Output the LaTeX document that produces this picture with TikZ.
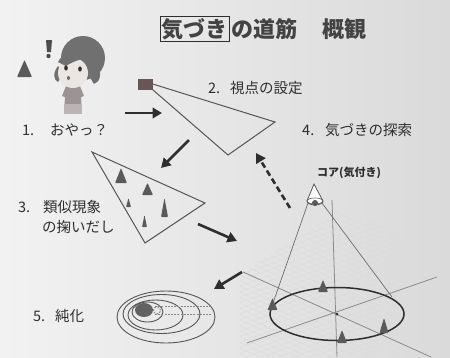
\documentclass[tikz,border=0pt]{standalone}
\usepackage{fontspec}
\newfontfamily\jp{Noto Sans CJK JP}
\usetikzlibrary{arrows.meta}
\definecolor{ink}{HTML}{2E2E2E}
\definecolor{bgl}{HTML}{F2F2F2}
\definecolor{bgr}{HTML}{DADADA}
\definecolor{spikecol}{HTML}{5A5A5A}
\definecolor{pincol}{HTML}{6A5555}
\definecolor{haircol}{HTML}{707070}
\definecolor{skincol}{HTML}{ECE6E2}
\definecolor{shirtcol}{HTML}{9C9494}
\definecolor{meshcol}{HTML}{DCDCDC}
\definecolor{axiscol}{HTML}{8A8A8A}
\definecolor{linecol}{HTML}{555555}
% small cone marker: base centre x, base y, width, height
\newcommand\spike[4]{\fill[spikecol, rounded corners=0.8pt] ({#1-#3/2},#2) -- (#1,{#2-#4}) -- ({#1+#3/2},#2) -- cycle;}
\begin{document}
\begin{tikzpicture}[x=1pt, y=-1pt,
  lbl/.style={anchor=west, inner sep=0pt, text=ink, font=\jp\fontsize{14.5}{16}\selectfont},
  ttl/.style={anchor=west, inner sep=0pt, text=ink!90, font=\jp\bfseries\fontsize{22}{24}\selectfont},
  flow/.style={line width=2.6pt, draw=ink, -{Triangle[length=9.5pt,width=10.5pt]}},
  thinline/.style={draw=linecol, line width=1pt},
  ray/.style={draw=axiscol!80!black, line width=0.7pt}]
\useasboundingbox (0,0) rectangle (450,357);
\shade[left color=bgl, right color=bgr] (0,0) rectangle (450,357);

% ---- title ----
\node[ttl, draw=ink, line width=0.8pt, inner sep=1.5pt] (kz) at (160,29) {気づき};
\node[ttl] (michi) at ([xshift=1pt]kz.east) {の道筋};
\node[ttl] (gaikan) at (322,29) {概観};

% ---- 1. the girl ----
\spike{24.5}{77}{15}{17}
\fill[ink!85] (46,40) -- (52,40) -- (51,52) -- (47,52) -- cycle;
\fill[ink!85] (48.5,56) circle (2.2pt);
% hair
\fill[haircol] (83,58) circle (22pt);
\fill[haircol] (58,66) .. controls (52,74) and (54,80) .. (58,82) -- (64,72) -- cycle;
\fill[haircol] (98,64) .. controls (102,74) and (100,82) .. (94,84) -- (88,74) -- cycle;
% body
\fill[shirtcol] (66,86) -- (80,86) -- (84,96) -- (81,97) -- (82,112) -- (64,112) -- (65,97) -- (62,96) -- cycle;
\fill[shirtcol!70!white] (64,104) rectangle (82,114);
% face
\fill[skincol] (73,73) ellipse [x radius=15pt, y radius=15pt];
\fill[haircol] (58,62) .. controls (62,52) and (78,50) .. (90,58) .. controls (82,58) and (72,62) .. (66,66) -- cycle;
\fill[ink] (66,68) ellipse [x radius=1.8pt, y radius=2.6pt];
\fill[ink] (80,69) ellipse [x radius=1.8pt, y radius=2.6pt];
\fill[ink!70] (68.5,78) ellipse [x radius=1.5pt, y radius=2pt];
\node[lbl] (t1) at (22,130) {\makebox[28pt][l]{1.}おやっ？};

% ---- 2. viewpoint ----
\node[fill=pincol, minimum width=15pt, minimum height=11pt, inner sep=0pt] (pin) at (145,84) {};
\coordinate (v2r) at (275,122);
\coordinate (v2b) at (228,155);
\draw[thinline] (pin.east) -- (v2r) -- (v2b) -- (pin.south east);
\node[lbl] (t2) at (208,88) {\makebox[22pt][l]{2.}視点の設定};

% ---- 3. similar phenomena ----
\coordinate (v3a) at (92,152);
\coordinate (v3b) at (205,203);
\coordinate (v3c) at (145,243);
\draw[thinline] (v3a) -- (v3b) -- (v3c) -- cycle;
\spike{121}{183}{12}{15}
\spike{147.5}{195}{11}{12}
\spike{128.5}{207}{5}{9}
\spike{164.5}{217}{7}{19}
\spike{144.5}{227}{5}{12}
\node[lbl] (n3) at (18,207) {3.};
\node[lbl] (t3a) at (43,207) {類似現象};
\node[lbl] (t3b) at (42,227) {の掬いだし};

% ---- 4. exploration: ground plane ----
\begin{scope}
  \clip (240,274) -- (338,212) -- (450,248) -- (450,357) -- (240,357) -- cycle;
  \foreach \k in {-20,...,20} {
    \draw[meshcol, line width=0.45pt] ({337+7*\k-300},{314-2.4*\k-138}) -- ({337+7*\k+300},{314-2.4*\k+138});
    \draw[meshcol, line width=0.45pt] ({337+7*\k-300},{314+3.2*\k+104}) -- ({337+7*\k+300},{314+3.2*\k-104});
  }
\end{scope}
\coordinate (ctr) at (337,314);
\coordinate (ax1a) at (243,272);
\coordinate (ax1b) at (431,357);
\coordinate (ax2a) at (247,343);
\coordinate (ax2b) at (437,277);
\draw[axiscol, line width=0.8pt] (ax1a) -- (ax1b);
\draw[axiscol, line width=0.8pt] (ax2a) -- (ax2b);
\draw[axiscol, line width=0.8pt] (332,200) -- (337,357);
% core cone
\coordinate (apex) at (314,184);
\coordinate (cbl) at (308,203);
\coordinate (cbr) at (322,203);
\coordinate (rl) at (273,303);
\coordinate (rr) at (392,297);
\draw[ray] (cbl) -- (rl);
\draw[ray] (cbr) -- (rr);
\draw[ink, line width=1.5pt] (ctr) ellipse [x radius=67pt, y radius=26.5pt];
\fill[ink] (ctr) circle (1.5pt);
\filldraw[fill=white, draw=ink!80, line width=0.8pt] (307,201) -- (apex) -- (323,201) arc[start angle=0, end angle=-180, x radius=8pt, y radius=4pt] -- cycle;
\draw[ink!80, line width=0.6pt] (315,201) ellipse [x radius=8pt, y radius=3pt];
\fill[ink!80] (315,203) circle (3pt);
\node[anchor=west, inner sep=0pt, text=ink, font=\jp\bfseries\fontsize{11}{12}\selectfont] (core) at (317,173) {コア(気付き)};
\spike{323}{292}{10}{12}
\spike{272.5}{310}{10}{12}
\spike{342}{343}{10}{13}
\spike{384}{333}{9}{15}
\node[lbl] (t4) at (302,130) {\makebox[23pt][l]{4.}気づきの探索};

% ---- 5. refinement ----
\begin{scope}[draw=linecol, line width=0.9pt]
  \draw (166,317) ellipse [x radius=49pt, y radius=26pt];
  \draw (161.5,314) ellipse [x radius=38.5pt, y radius=19.5pt];
  \draw (155.5,315) ellipse [x radius=27.5pt, y radius=15pt];
  \draw (147.5,312) ellipse [x radius=15.5pt, y radius=10pt];
\end{scope}
\fill[ink!75] (144,310) ellipse [x radius=9pt, y radius=7pt];
\begin{scope}[draw=linecol!70, line width=0.8pt, dash pattern=on 2pt off 1.2pt]
  \draw (155,306.5) -- (212,306.5);
  \draw (155,314) -- (212,314);
  \draw (157,310.3) ellipse [x radius=3.5pt, y radius=3.7pt];
\end{scope}
\node[lbl] (t5) at (33,316) {\makebox[22pt][l]{5.}純化};

% ---- flow arrows ----
\coordinate (a1s) at (125,113);
\coordinate (a1e) at (162,113);
\coordinate (a2s) at (189,140);
\coordinate (a2e) at (161,168);
\coordinate (a3s) at (198,224);
\coordinate (a3e) at (237,241);
\coordinate (a4s) at (242,272);
\coordinate (a4e) at (214,289);
\coordinate (a5s) at (290,208);
\coordinate (a5e) at (256,153);
\draw[flow] (a1s) -- (a1e);
\draw[flow] (a2s) -- (a2e);
\draw[flow] (a3s) -- (a3e);
\draw[flow] (a4s) -- (a4e);
\draw[flow, dash pattern=on 6pt off 3.5pt] (a5s) -- (a5e);
\end{tikzpicture}
\end{document}
